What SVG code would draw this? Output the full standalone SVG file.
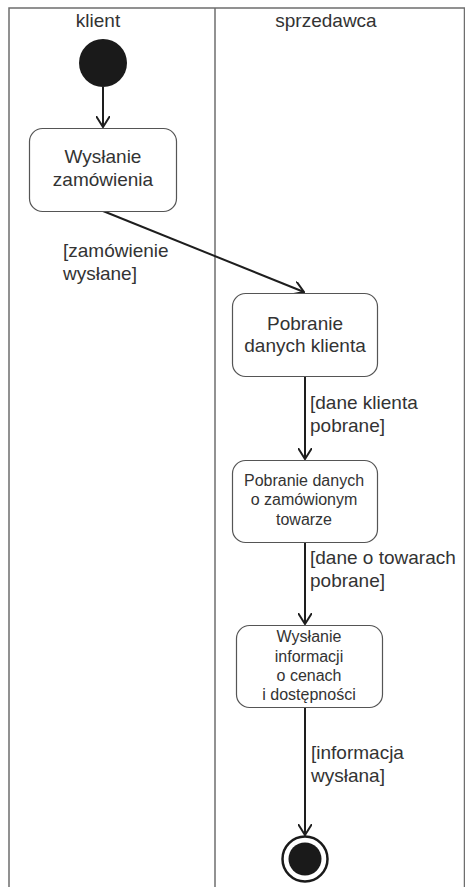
<svg xmlns="http://www.w3.org/2000/svg" width="465" height="887" viewBox="0 0 465 887">
<style>
.lane{stroke:#6e6e6e;stroke-width:1.5;fill:none}
.box{fill:#fff;stroke:#555;stroke-width:1.2}
.t{font-family:"Liberation Sans",Arial,sans-serif;fill:#333;text-anchor:middle}
.big{font-size:19px}
.small{font-size:16px}
.lbl{font-family:"Liberation Sans",Arial,sans-serif;fill:#333;font-size:19px}
.edge{stroke:#1e1e1e;stroke-width:2;fill:none;marker-end:url(#arr)}
</style>
<defs>
<marker id="arr" viewBox="0 0 12 14" refX="11" refY="7" markerWidth="12" markerHeight="14" markerUnits="userSpaceOnUse" orient="auto">
<path d="M0,0 L11,7 L0,14" fill="none" stroke="#1e1e1e" stroke-width="2"/>
</marker>
</defs>
<rect width="465" height="887" fill="#fff"/>
<g id="lanes">
<path class="lane" d="M9,887 V8 H465"/>
<path class="lane" d="M215,8 V887"/>
<path class="lane" d="M464.5,8 V887" stroke="#bbb"/>
<text class="t big" x="98" y="27">klient</text>
<text class="t big" x="326" y="27">sprzedawca</text>
</g>
<g id="connectors">
<path class="edge" d="M103,87 V127"/>
<path class="edge" d="M103,211 L304,292"/>
<path class="edge" d="M305,377 V459"/>
<path class="edge" d="M305,543 V624"/>
<path class="edge" d="M305,708 V835"/>
<text class="lbl" x="63" y="257">[zamówienie</text>
<text class="lbl" x="63" y="280">wysłane]</text>
<text class="lbl" x="310" y="409">[dane klienta</text>
<text class="lbl" x="310" y="432">pobrane]</text>
<text class="lbl" x="310" y="564">[dane o towarach</text>
<text class="lbl" x="310" y="587">pobrane]</text>
<text class="lbl" x="311" y="759">[informacja</text>
<text class="lbl" x="311" y="782">wysłana]</text>
</g>
<g id="start">
<circle cx="103" cy="63" r="24" fill="#1a1a1a"/>
</g>
<g id="wyslanie-zamowienia">
<rect class="box" x="29.5" y="128.5" width="147" height="83" rx="13"/>
<text class="t big" x="103" y="163">Wysłanie</text>
<text class="t big" x="103" y="186">zamówienia</text>
</g>
<g id="pobranie-danych-klienta">
<rect class="box" x="232.5" y="293.5" width="145" height="83" rx="13"/>
<text class="t big" x="305" y="330">Pobranie</text>
<text class="t big" x="305" y="352">danych klienta</text>
</g>
<g id="pobranie-danych-towaru">
<rect class="box" x="232.5" y="460.5" width="145" height="82" rx="13"/>
<text class="t small" x="304" y="486">Pobranie danych</text>
<text class="t small" x="304" y="505">o zamówionym</text>
<text class="t small" x="304" y="525">towarze</text>
</g>
<g id="wyslanie-informacji">
<rect class="box" x="236.5" y="625.5" width="146" height="82" rx="13"/>
<text class="t small" x="309" y="642">Wysłanie</text>
<text class="t small" x="309" y="662">informacji</text>
<text class="t small" x="309" y="681">o cenach</text>
<text class="t small" x="309" y="700">i dostępności</text>
</g>
<g id="end">
<circle cx="305" cy="859" r="22.5" fill="#fff" stroke="#1a1a1a" stroke-width="2.5"/>
<circle cx="305" cy="859" r="16.5" fill="#1a1a1a"/>
</g>
</svg>
